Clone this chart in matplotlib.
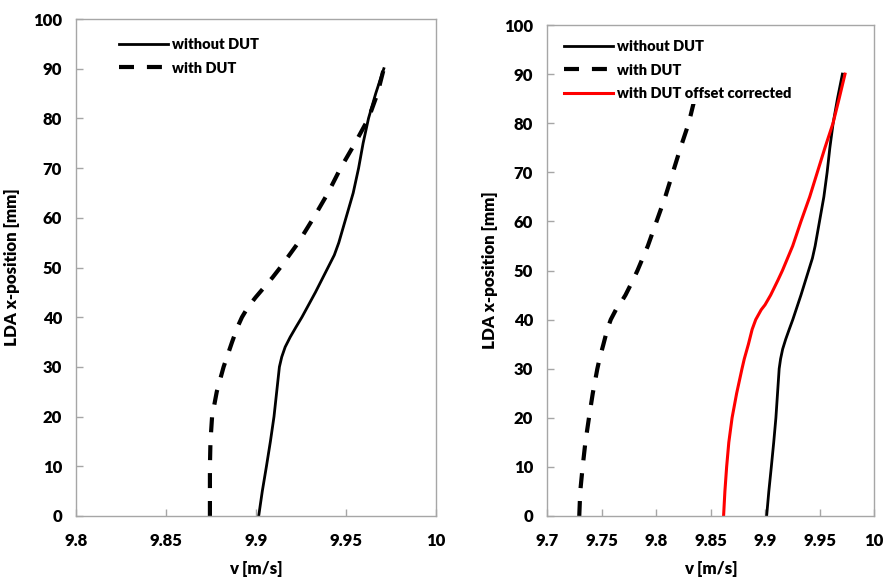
import matplotlib
matplotlib.use("Agg")
import matplotlib.pyplot as plt

# ---------------- data ----------------
y_black = [0, 5, 10, 15, 20, 25, 28, 30, 32, 34, 36, 38, 40, 45, 50, 52.5, 55, 60, 65, 70, 75, 80, 85, 90]
v_without = [9.9015, 9.9035, 9.9058, 9.9080, 9.9100, 9.9115, 9.9124, 9.9130, 9.9143, 9.9162,
             9.9190, 9.9222, 9.9255, 9.9330, 9.9400, 9.9435, 9.9460, 9.9500, 9.9540, 9.9570,
             9.9595, 9.9625, 9.9665, 9.9710]

y_dash_left = [0, 5, 10, 15, 20, 25, 30, 35, 38, 40, 42, 44, 46, 48, 50, 55, 60, 65, 70, 75, 80, 85, 90]
v_with_left = [9.8744, 9.8744, 9.8744, 9.8747, 9.8756, 9.8782, 9.8820, 9.8867, 9.8897, 9.8922,
               9.8955, 9.8998, 9.9045, 9.9092, 9.9135, 9.9235, 9.9320, 9.9400, 9.9470, 9.9550,
               9.9625, 9.9675, 9.9710]

y_right = [0, 5, 10, 15, 20, 25, 30, 32, 35, 38, 40, 42, 43, 45, 48, 50, 55, 60, 65, 70, 75, 80, 85, 90]
v_with_right = [9.7296, 9.7305, 9.7327, 9.7352, 9.7385, 9.7420, 9.7462, 9.7482, 9.7518, 9.7553,
                9.7585, 9.7632, 9.7665, 9.7720, 9.7788, 9.7830, 9.7925, 9.8005, 9.8085, 9.8155,
                9.8225, 9.8300, 9.8355, 9.8406]
v_corrected = [9.8620, 9.8632, 9.8648, 9.8668, 9.8698, 9.8740, 9.8789, 9.8810, 9.8848, 9.8882,
               9.8915, 9.8965, 9.9000, 9.9052, 9.9118, 9.9160, 9.9254, 9.9330, 9.9410, 9.9480,
               9.9550, 9.9624, 9.9680, 9.9734]

left_xticks = [9.8, 9.85, 9.9, 9.95, 10]
left_xlabels = ["9.8", "9.85", "9.9", "9.95", "10"]
right_xticks = [9.7, 9.75, 9.8, 9.85, 9.9, 9.95, 10]
right_xlabels = ["9.7", "9.75", "9.8", "9.85", "9.9", "9.95", "10"]
yticks = [0, 10, 20, 30, 40, 50, 60, 70, 80, 90, 100]

# ---------------- style ----------------
FONT = "Lato"
plt.rcParams["font.family"] = [FONT, "DejaVu Sans"]
GREY = "#A6A6A6"
TICK_FS = 12
LABEL_FS = 12.2
LEG_FS = 10.5
WEIGHT = "heavy"
DASH = (0, (3.6, 3.1))

fig = plt.figure(figsize=(8.86, 5.84), dpi=100)
W, H = 886, 584

def make_axes(l, r, t, b):
    return fig.add_axes([l / W, (H - b) / H, (r - l) / W, (b - t) / H])

axL = make_axes(76, 436, 19, 516)
axR = make_axes(547, 874, 25, 516)

def style(ax, xticks, xlabels, xlim, ylab_x, axw):
    ax.set_xlim(*xlim)
    ax.set_ylim(0, 100)
    ax.set_xticks(xticks)
    ax.set_xticklabels(xlabels)
    ax.set_yticks(yticks)
    for s in ax.spines.values():
        s.set_color(GREY)
        s.set_linewidth(1.0)
    ax.tick_params(axis="both", direction="in", length=5, width=1, color=GREY,
                   labelsize=TICK_FS, labelcolor="black")
    ax.tick_params(axis="x", pad=12)
    ax.tick_params(axis="y", pad=10)
    for lab in ax.get_xticklabels() + ax.get_yticklabels():
        lab.set_fontweight(WEIGHT)
    ax.set_xlabel("v [m/s]", fontsize=LABEL_FS, fontweight=WEIGHT, labelpad=9)
    ax.set_ylabel("LDA x-position [mm]", fontsize=LABEL_FS, fontweight=WEIGHT)
    ax.yaxis.set_label_coords(ylab_x / axw, 0.5)

leg_prop = {"family": FONT, "weight": WEIGHT, "size": LEG_FS}

# Left plot
axL.plot(v_without, y_black, color="black", lw=2.0, label="without DUT")
axL.plot(v_with_left, y_dash_left, color="black", lw=3.0, linestyle=DASH, label="with DUT")
style(axL, left_xticks, left_xlabels, (9.8, 10), 20 - 76, 360)
axL.legend(loc="upper left", bbox_to_anchor=((115 - 76) / 360, 1 - (34 - 19) / 497),
           frameon=False, prop=leg_prop,
           handlelength=3.3, handletextpad=0.3, labelspacing=0.7, borderpad=0.3,
           borderaxespad=0)

# Right plot
axR.plot(v_without, y_black, color="black", lw=2.0, label="without DUT")
axR.plot(v_with_right, y_right, color="black", lw=3.0, linestyle=DASH, label="with DUT")
axR.plot(v_corrected, y_right, color="#FF0000", lw=2.2, label="with DUT offset corrected")
style(axR, right_xticks, right_xlabels, (9.7, 10), 498 - 547, 327)
axR.legend(loc="upper left", bbox_to_anchor=((560 - 547) / 327, 1 - (36 - 25) / 491),
           frameon=True, facecolor="white", edgecolor="none", framealpha=1.0,
           fancybox=False, prop=leg_prop,
           handlelength=3.3, handletextpad=0.3, labelspacing=0.7, borderpad=0.3,
           borderaxespad=0)

fig.savefig("out.png", dpi=100)
